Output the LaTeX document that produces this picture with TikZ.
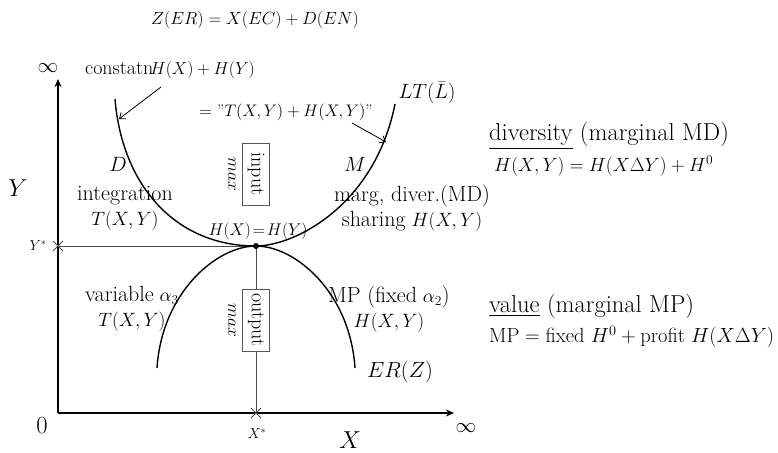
\documentclass[tikz,border=0pt]{standalone}
\usepackage{fix-cm}
\usepackage{amsmath}
\usepackage{amssymb}
\usepackage{tikz}
\usetikzlibrary{arrows.meta}
\newcommand{\bigtxt}[1]{{\fontsize{22}{26}\selectfont #1}}
\tikzset{
  lbl/.style={font=\fontsize{19.3}{25}\selectfont, inner sep=1pt, align=center},
  head/.style={font=\fontsize{24.5}{28}\selectfont, inner sep=1pt, anchor=west},
  frm/.style={font=\fontsize{19.2}{22}\selectfont, inner sep=1pt, anchor=west},
  top/.style={font=\fontsize{17.6}{20}\selectfont, inner sep=1pt},
  big/.style={font=\fontsize{24.5}{28}\selectfont, inner sep=1pt},
  sml/.style={font=\fontsize{14.5}{18}\selectfont, inner sep=1pt},
  mlbl/.style={font=\fontsize{17}{20}\selectfont, inner sep=1pt},
  rbox/.style={draw=black!65, thin, rotate=-90, font=\fontsize{20}{20}\selectfont,
    minimum width=62pt, minimum height=27pt, inner sep=2pt, fill=white},
  rmax/.style={rotate=-90, font=\fontsize{17.5}{20}\selectfont, inner sep=1pt},
  curve/.style={line width=1.4pt},
  axis/.style={line width=1.4pt, -{Stealth[length=8pt,width=7pt]}},
  pointer/.style={line width=0.8pt, -{Straight Barb[length=5pt,width=8pt]}},
  guide/.style={draw=black!70, line width=0.8pt},
  cross/.style={draw=black!70, line width=0.8pt}
}
\begin{document}
\begin{tikzpicture}[x=1pt,y=-1pt]
      \useasboundingbox (0,0) rectangle (778,452);
      \coordinate (O) at (58,413);
      \coordinate (Ytop) at (58,79);
      \coordinate (Xend) at (454,413);
      \coordinate (Ystar) at (58,246);
      \coordinate (Xstar) at (256,413);
      \coordinate (E) at (256,246);
      \coordinate (LTl) at (115,99);
      \coordinate (LTr) at (395,104);
      \coordinate (ERl) at (157,368);
      \coordinate (ERr) at (355,368);

      \node[top] (title) at (255,20) {$Z(ER)=X(EC)+D(EN)$};

      % axes
      \draw[axis] (O) -- (Ytop);
      \draw[axis] (O) -- (Xend);
      \node[lbl, font=\fontsize{20.7}{25}\selectfont] (infY) at (48,68) {$\infty$};
      \node[lbl, font=\fontsize{20.7}{25}\selectfont] (infX) at (466,428) {$\infty$};
      \node[big] (zero) at (42,426) {$0$};
      \node[big] (labX) at (350,440) {$X$};
      \node[big] (labY) at (18,188) {$Y$};
      \node[sml] (ystar) at (38,246) {$Y^*$};
      \node[sml] (xstar) at (257,434) {$X^*$};

      \draw[guide] (Ystar) -- (E);
      \draw[guide] (E) -- (Xstar);
      \draw[cross] ([shift={(-5,-5)}]Ystar) -- ([shift={(5,5)}]Ystar)
                   ([shift={(-5,5)}]Ystar) -- ([shift={(5,-5)}]Ystar);
      \draw[cross] ([shift={(-5,-5)}]Xstar) -- ([shift={(5,5)}]Xstar)
                   ([shift={(-5,5)}]Xstar) -- ([shift={(5,-5)}]Xstar);

      % curves
      \draw[curve] (LTl) .. controls (122,185) and (175,246) .. (E)
                         .. controls (295,246) and (375,205) .. (LTr);
      \draw[curve] (ERl) .. controls (162,292) and (217,246) .. (E)
                         .. controls (295,246) and (350,292) .. (ERr);
      \fill (E) circle (3);

      % boxes
      \node[rbox] (input) at (256,174) {input};
      \node[rmax] (maxin) at (232,174) {$max$};
      \node[rbox] (output) at (256,320) {output};
      \node[rmax] (maxout) at (232,320) {$max$};

      % labels upper curve
      \node[top, font=\fontsize{17.3}{20}\selectfont] (const) at (170,70) {{\fontsize{20}{24}\selectfont constatn}\hspace{-3pt}$H(X)+H(Y)$};
      \node[top, font=\fontsize{16.7}{20}\selectfont] (sumTH) at (286,112) {$=$ "$T(X,Y)+H(X,Y)$"};
      \node[lbl, font=\fontsize{20.7}{25}\selectfont] (LT) at (427,93) {$LT(\bar{L})$};
      \coordinate (c1s) at (161,87);
      \coordinate (c1e) at (119,119);
      \coordinate (c2s) at (352,123);
      \coordinate (c2e) at (386,142);
      \draw[pointer] (c1s) -- (c1e);
      \draw[pointer] (c2s) -- (c2e);
      \node[lbl, font=\fontsize{20.7}{25}\selectfont] (D) at (118,164) {$D$};
      \node[lbl, font=\fontsize{20.7}{25}\selectfont] (M) at (355,164) {$M$};
      \node[lbl] (integ) at (125,208) {\bigtxt{integration}\\$T(X,Y)$};
      \node[lbl] (marg) at (412,208) {\bigtxt{marg, diver.(MD)}\\\bigtxt{sharing} $H(X,Y)$};
      \node[mlbl] (HeqH) at (258,231) {$H(X)\!=\!H(Y)$};

      % labels lower curve
      \node[lbl] (var) at (132,309) {\bigtxt{variable} $\alpha_3$\\$T(X,Y)$};
      \node[lbl] (MPf) at (389,309) {\bigtxt{MP (fixed} $\alpha_2$\bigtxt{)}\\$H(X,Y)$};
      \node[lbl, font=\fontsize{22}{25}\selectfont] (ER) at (400,372) {$ER(Z)$};

      % right side
      \node[head] (div) at (488,136) {\underline{diversity} (marginal MD)};
      \node[frm] (divf) at (493,166) {$H(X,Y)=H(X\Delta Y)+H^0$};
      \node[head] (val) at (488,306) {\underline{value} (marginal MP)};
      \node[frm, font=\fontsize{20.5}{24}\selectfont] (valf) at (488,337) {$\mathrm{MP}=\text{fixed }H^0+\text{profit }H(X\Delta Y)$};
\end{tikzpicture}
\end{document}
